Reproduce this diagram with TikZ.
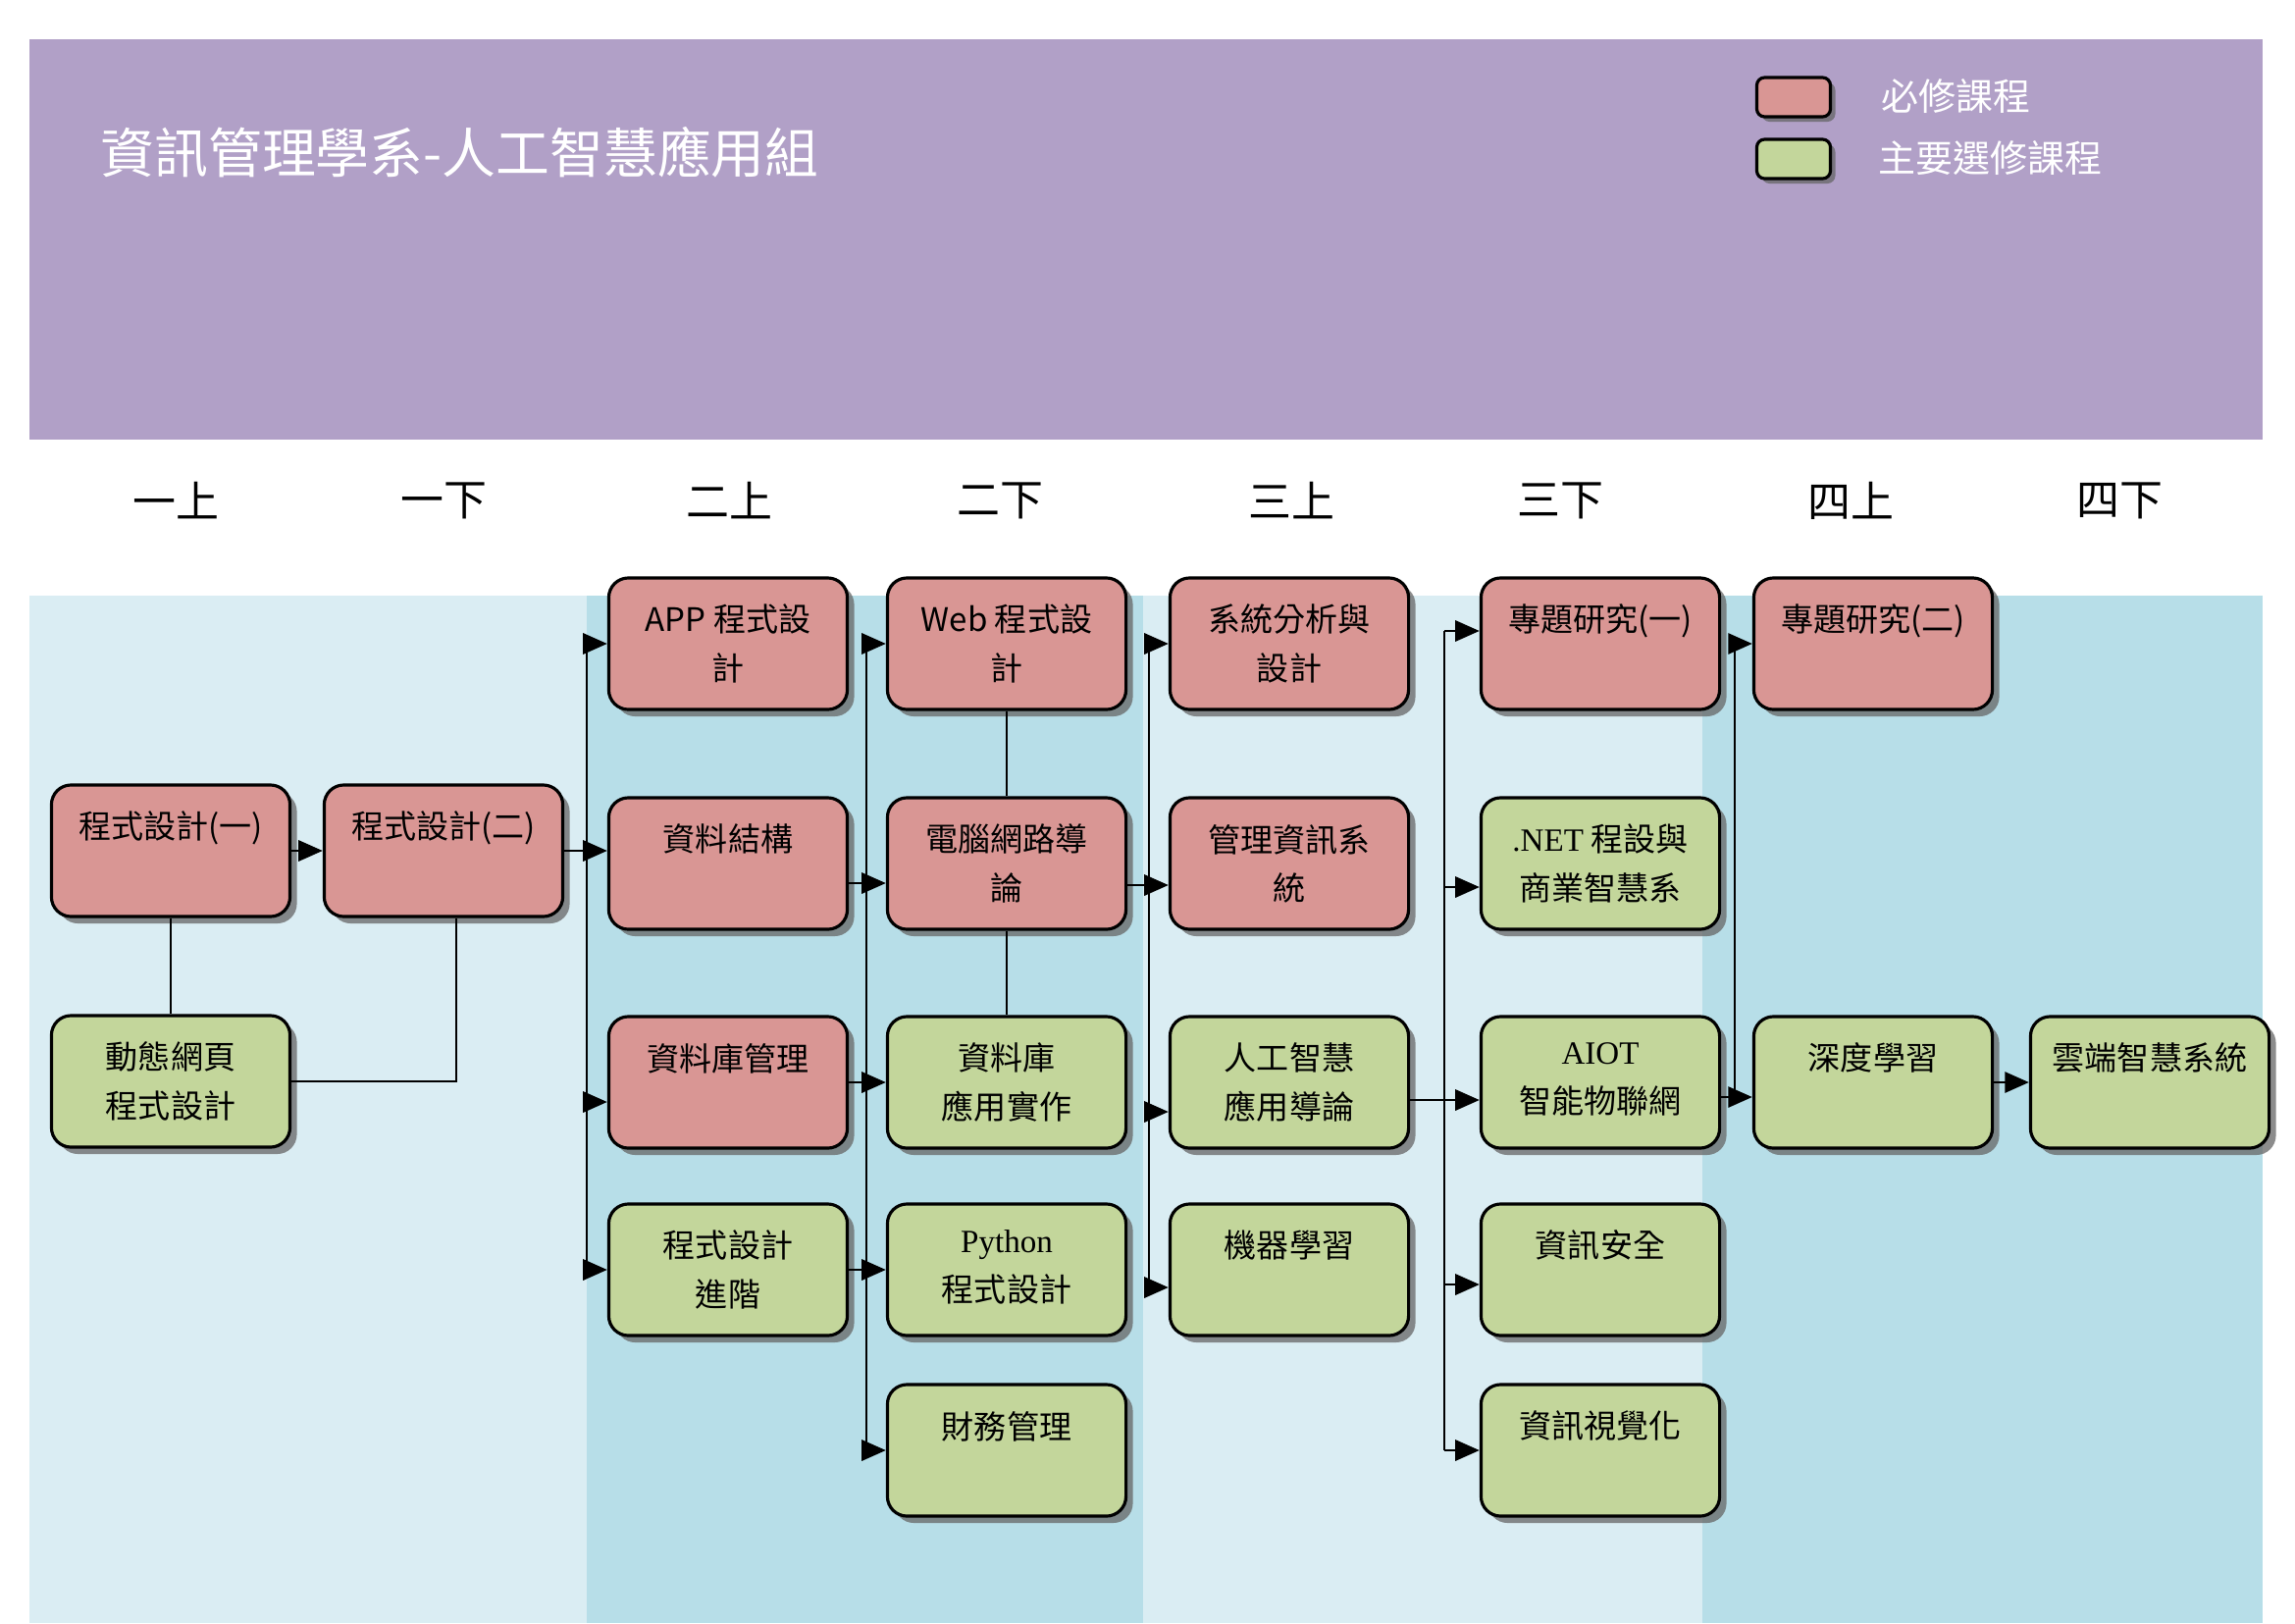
\documentclass[tikz,border=0pt]{standalone}
\usepackage{fontspec}
\setmainfont{Noto Sans CJK TC}
\newfontfamily\romanfont{Liberation Serif}
\usetikzlibrary{positioning, calc, arrows.meta, shadows}

\definecolor{bannerpurple}{HTML}{B1A0C7}
\definecolor{bandlight}{HTML}{DAEDF3}
\definecolor{banddark}{HTML}{B7DEE8}
\definecolor{reqred}{HTML}{D99694}
\definecolor{electgreen}{HTML}{C3D69B}

\begin{document}
\begin{tikzpicture}[
    x=0.01cm, y=-0.01cm,
    course/.style   = {rectangle, draw=black, line width=0.9pt, rounded corners=0.2cm,
                       inner sep=0pt, font=\fontsize{9.4}{14}\selectfont,
                       drop shadow={shadow xshift=0.07cm, shadow yshift=-0.07cm,
                                    fill=black!60, opacity=0.75},
                       execute at begin node={\begin{minipage}[c][1.34cm][t]{2.43cm}\centering\vspace*{0.27cm}},
                       execute at end node={\end{minipage}}},
    req/.style      = {course, fill=reqred},
    elec/.style     = {course, fill=electgreen},
    legendbox/.style= {rectangle, draw=black, line width=0.9pt, rounded corners=0.08cm,
                       minimum width=0.75cm, minimum height=0.4cm, inner sep=0pt,
                       drop shadow={shadow xshift=0.05cm, shadow yshift=-0.05cm,
                                    fill=black!60, opacity=0.75}},
    legendlbl/.style= {anchor=west, text=white, font=\fontsize{10.8}{13}\selectfont},
    yearlbl/.style  = {font=\fontsize{12.5}{15}\selectfont, text=black},
    titlelbl/.style = {anchor=west, text=white, font=\fontsize{15.6}{19}\selectfont},
    conn/.style     = {line width=0.8pt, draw=black, -{Triangle[length=7pt, width=6pt]}},
    link/.style     = {line width=0.8pt, draw=black},
]

%% ============================================================
%% COORDINATES
%% ============================================================
\def\xA{174}
\def\xB{452}
\def\xC{742}
\def\xD{1026}
\def\xE{1314}
\def\xF{1631}
\def\xG{1909}
\def\xH{2191}

\def\yYear{510}
\def\yMid{867}
\def\yDyn{1102}
\def\yA{656}
\def\yB{880}
\def\yC{1103}
\def\yD{1294}
\def\yE{1478}

\useasboundingbox (0,0) rectangle (2339,1654);

%% ============================================================
%% BANNER AND YEAR BANDS
%% ============================================================
\fill[bannerpurple] (30,40) rectangle (2306,448);
\fill[bandlight] (30,607)   rectangle (598,1654);
\fill[banddark]  (598,607)  rectangle (1165,1654);
\fill[bandlight] (1165,607) rectangle (1735,1654);
\fill[banddark]  (1735,607) rectangle (2306,1654);

\node[titlelbl] (title) at (90,155) {資訊管理學系-人工智慧應用組};

\node[legendbox, fill=reqred]     (legReq)  at (1828,99)  {};
\node[legendbox, fill=electgreen] (legElec) at (1828,162) {};
\node[legendlbl] (legReqTxt)  at (1905,98)  {必修課程};
\node[legendlbl] (legElecTxt) at (1902,161) {主要選修課程};

%% ============================================================
%% SEMESTER HEADERS
%% ============================================================
\node[yearlbl] (s1a) at (179,  \yYear) {一上};
\node[yearlbl] (s1b) at (452,  \yYear) {一下};
\node[yearlbl] (s2a) at (743,  \yYear) {二上};
\node[yearlbl] (s2b) at (1019, \yYear) {二下};
\node[yearlbl] (s3a) at (1316, \yYear) {三上};
\node[yearlbl] (s3b) at (1590, \yYear) {三下};
\node[yearlbl] (s4a) at (1886, \yYear) {四上};
\node[yearlbl] (s4b) at (2160, \yYear) {四下};

%% ============================================================
%% COURSE NODES
%% ============================================================
\node[req]  (p1)  at (\xA, \yMid) {程式設計(一)};
\node[elec] (dyn) at (\xA, \yDyn) {動態網頁\\程式設計};
\node[req]  (p2)  at (\xB, \yMid) {程式設計(二)};

\node[req]  (app) at (\xC, \yA) {APP 程式設\\計};
\node[req]  (ds)  at (\xC, \yB) {資料結構};
\node[req]  (dbm) at (\xC, \yC) {資料庫管理};
\node[elec] (adv) at (\xC, \yD) {程式設計\\進階};

\node[req]  (web) at (\xD, \yA) {Web 程式設\\計};
\node[req]  (net) at (\xD, \yB) {電腦網路導\\論};
\node[elec] (dbi) at (\xD, \yC) {資料庫\\應用實作};
\node[elec] (py)  at (\xD, \yD) {{\romanfont Python}\\程式設計};
\node[elec] (fin) at (\xD, \yE) {財務管理};

\node[req]  (sa)  at (\xE, \yA) {系統分析與\\設計};
\node[req]  (mis) at (\xE, \yB) {管理資訊系\\統};
\node[elec] (ai)  at (\xE, \yC) {人工智慧\\應用導論};
\node[elec] (ml)  at (\xE, \yD) {機器學習};

\node[req]  (pr1)  at (\xF, \yA) {專題研究(一)};
\node[elec] (bi)   at (\xF, \yB) {{\romanfont .NET} 程設與\\商業智慧系};
\node[elec] (aiot) at (\xF, \yC) {{\romanfont AIOT}\\智能物聯網};
\node[elec] (sec)  at (\xF, \yD) {資訊安全};
\node[elec] (vis)  at (\xF, \yE) {資訊視覺化};

\node[req]  (pr2)   at (\xG, \yA) {專題研究(二)};
\node[elec] (dl)    at (\xG, \yC) {深度學習};
\node[elec] (cloud) at (\xH, \yC) {雲端智慧系統};

%% ============================================================
%% FIRST YEAR
%% ============================================================
\draw[conn] (p1.east) -- (p2.west);
\draw[link] (p1.south) -- (dyn.north);
\draw[link] (dyn.east) -| ([xshift=0.13cm]p2.south);

%% ============================================================
%% INTO 二上
%% ============================================================
\coordinate (busB) at (598,0);
\draw[conn] (p2.east) -- (p2.east -| ds.west);
\draw[link] (busB |- app.west) -- (busB |- adv.west);
\draw[conn] (busB |- app.west) -- (app.west);
\coordinate (dbmIn) at ([yshift=-0.2cm]dbm.west);
\draw[conn] (busB |- dbmIn) -- (dbmIn);
\draw[conn] (busB |- adv.west) -- (adv.west);

%% ============================================================
%% INTO 二下
%% ============================================================
\coordinate (busC) at (883,0);
\coordinate (dsOut) at ([yshift=-0.2cm]ds.east);
\draw[conn] (dsOut) -- (dsOut -| net.west);
\draw[conn] (dbm.east) -- (dbm.east -| dbi.west);
\draw[conn] (adv.east) -- (adv.east -| py.west);
\draw[link] (busC |- web.west) -- (busC |- fin.west);
\draw[conn] (busC |- web.west) -- (web.west);
\draw[conn] (busC |- fin.west) -- (fin.west);
\draw[link] (web.south) -- (net.north);
\draw[link] (net.south) -- (dbi.north);

%% ============================================================
%% INTO 三上
%% ============================================================
\coordinate (busD) at (1171,0);
\coordinate (netOut) at ([yshift=-0.22cm]net.east);
\coordinate (aiIn)   at ([yshift=-0.3cm]ai.west);
\coordinate (mlIn)   at ([yshift=-0.18cm]ml.west);
\draw[conn] (netOut) -- (netOut -| mis.west);
\draw[link] (busD |- sa.west) -- (busD |- mlIn);
\draw[conn] (busD |- sa.west) -- (sa.west);
\draw[conn] (busD |- aiIn) -- (aiIn);
\draw[conn] (busD |- mlIn) -- (mlIn);

%% ============================================================
%% INTO 三下
%% ============================================================
\coordinate (busE) at (1472,0);
\coordinate (aiOut) at ([yshift=-0.18cm]ai.east);
\coordinate (pr1In) at ([yshift=0.13cm]pr1.west);
\coordinate (biIn)  at ([yshift=-0.24cm]bi.west);
\coordinate (secIn) at ([yshift=-0.15cm]sec.west);
\draw[conn] (aiOut) -- (aiOut -| aiot.west);
\draw[link] (busE |- pr1In) -- (busE |- vis.west);
\draw[conn] (busE |- pr1In) -- (pr1In);
\draw[conn] (busE |- biIn) -- (biIn);
\draw[conn] (busE |- secIn) -- (secIn);
\draw[conn] (busE |- vis.west) -- (vis.west);

%% ============================================================
%% FOURTH YEAR
%% ============================================================
\coordinate (busF) at (1768,0);
\coordinate (aiotOut) at ([yshift=-0.15cm]aiot.east);
\draw[conn] (aiotOut) -- (aiotOut -| dl.west);
\draw[link] (busF |- pr2.west) -- (busF |- aiotOut);
\draw[conn] (busF |- pr2.west) -- (pr2.west);
\draw[conn] (dl.east) -- (dl.east -| cloud.west);

\end{tikzpicture}
\end{document}
